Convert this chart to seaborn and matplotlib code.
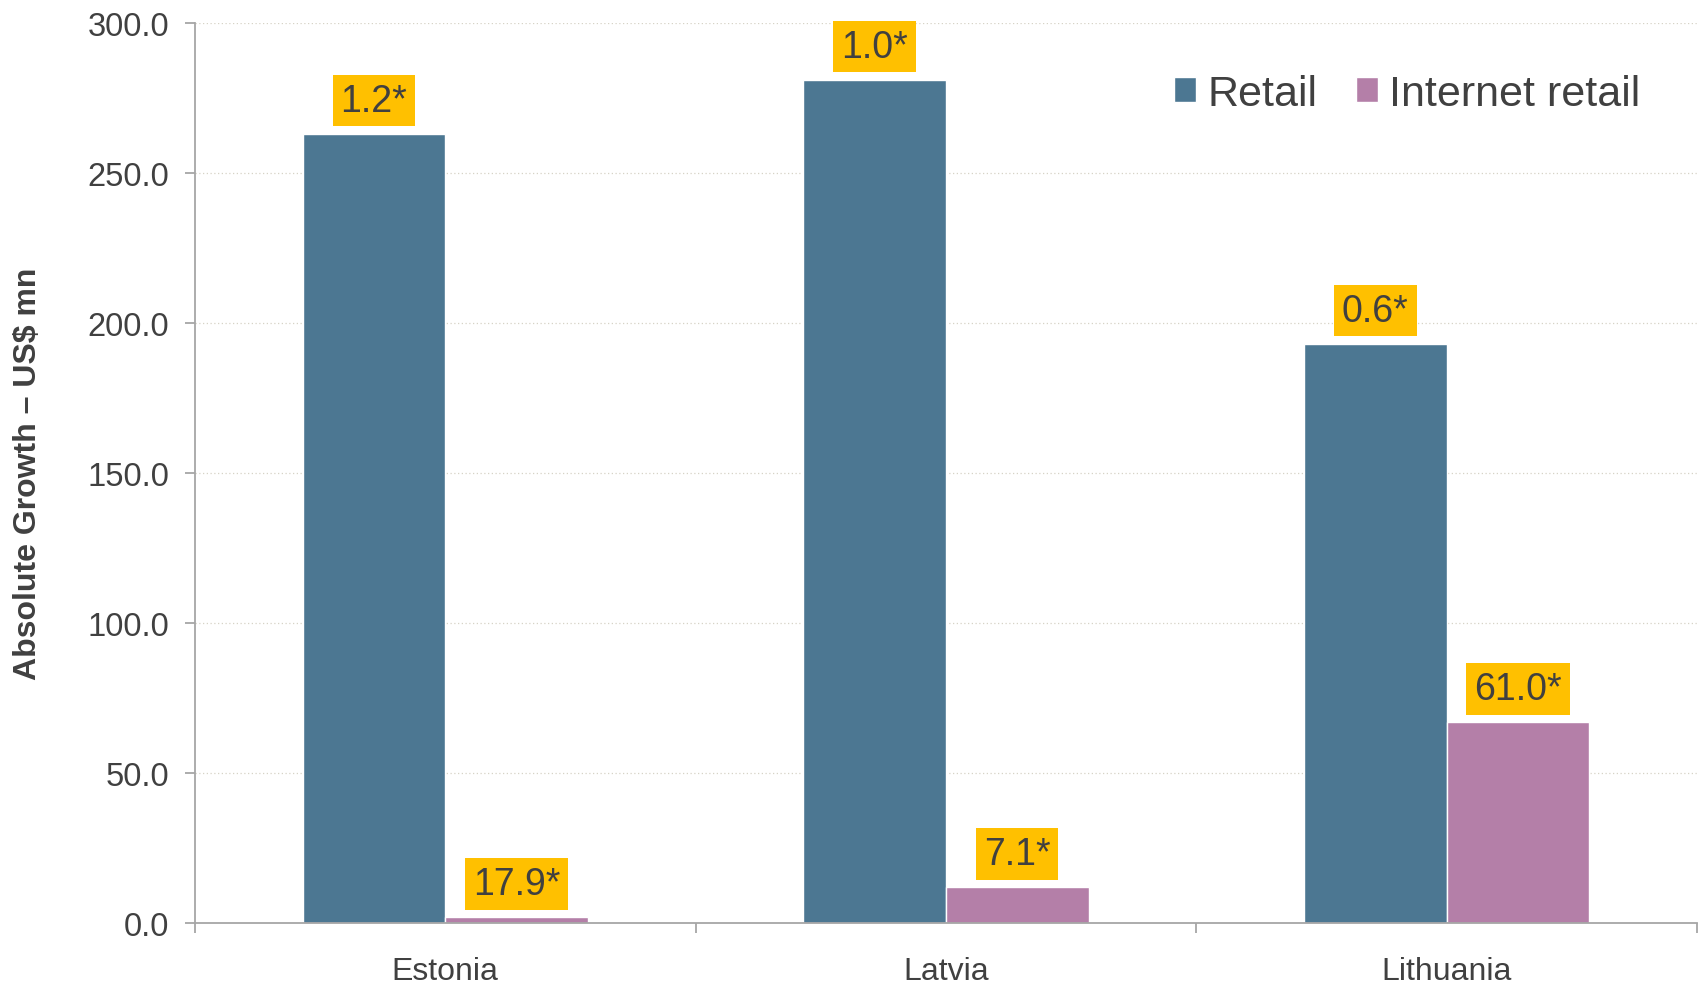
import matplotlib
matplotlib.use("Agg")
import matplotlib.pyplot as plt
import seaborn as sns
import pandas as pd

# Absolute growth (US$ mn) by country and channel
countries = ["Estonia", "Latvia", "Lithuania"]
retail = [263.0, 281.0, 193.0]
internet_retail = [2.0, 12.0, 67.0]

# Growth rates shown in the callouts above each bar
retail_growth = ["1.2*", "1.0*", "0.6*"]
internet_growth = ["17.9*", "7.1*", "61.0*"]

series_names = ["Retail", "Internet retail"]
yticks = [0, 50, 100, 150, 200, 250, 300]

df = pd.DataFrame({
    "Country": countries * 2,
    "Channel": [series_names[0]] * 3 + [series_names[1]] * 3,
    "Value": retail + internet_retail,
})

sns.set_theme(style="white")
plt.rcParams["font.family"] = ["Liberation Sans", "DejaVu Sans"]

text_color = "#404040"
axis_color = "#A6A6A6"
palette = {"Retail": "#4C7792", "Internet retail": "#B47FA8"}

fig = plt.figure(figsize=(16.98, 9.87), dpi=100)
ax = fig.add_axes([0.1148, 0.0638, 0.8846, 0.9121])

sns.barplot(data=df, x="Country", y="Value", hue="Channel",
            hue_order=series_names, palette=palette, width=0.57,
            errorbar=None, saturation=1, ax=ax, legend=True)

ax.set_xlim(-0.5, 2.5)
ax.set_ylim(0, 300)
ax.set_yticks(yticks)
ax.set_yticklabels([f"{v:.1f}" for v in yticks])

# dotted horizontal gridlines
for v in yticks[1:]:
    ax.axhline(v, color="#D6D3C6", linestyle=(0, (1, 2)), linewidth=0.9, zorder=0)

for s in ["top", "right"]:
    ax.spines[s].set_visible(False)
for s in ["left", "bottom"]:
    ax.spines[s].set_color(axis_color)
    ax.spines[s].set_linewidth(1.3)

ax.tick_params(axis="y", length=7, width=1.3, color=axis_color, pad=11.5,
               labelsize=23.5, labelcolor=text_color, direction="out", left=True)
ax.tick_params(axis="x", which="major", length=0, pad=24, labelsize=23,
               labelcolor=text_color)
ax.set_xticks([-0.5, 0.5, 1.5, 2.5], minor=True)
ax.tick_params(axis="x", which="minor", length=7, width=1.3, color=axis_color,
               direction="out", bottom=True)

ax.set_xlabel("")
ax.set_ylabel("Absolute Growth \u2013 US$ mn", fontsize=23, fontweight="bold",
              color=text_color)
ax.yaxis.set_label_coords(-0.101, 0.5)

# callout boxes above the bars
for container, labels in zip(ax.containers, [retail_growth, internet_growth]):
    for bar, lab in zip(container, labels):
        x = bar.get_x() + bar.get_width() / 2
        y = bar.get_height()
        ax.annotate(lab, xy=(x, y), xytext=(0, 11), textcoords="offset points",
                    ha="center", va="bottom", fontsize=27, color=text_color,
                    bbox=dict(boxstyle="square,pad=0.21", fc="#FFC000", ec="none"),
                    zorder=5)

leg = ax.legend(loc="upper right", bbox_to_anchor=(0.988, 0.986), frameon=False,
                ncol=2, fontsize=31, handlelength=0.52, handleheight=0.52,
                handletextpad=0.25, columnspacing=0.9)
for t in leg.get_texts():
    t.set_color(text_color)

fig.savefig("out.png", dpi=100)
